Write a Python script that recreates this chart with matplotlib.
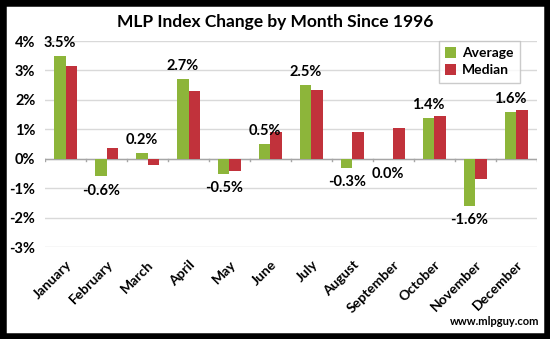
import matplotlib.pyplot as plt
import numpy as np
from matplotlib.patches import Rectangle

months = ['January', 'February', 'March', 'April', 'May', 'June', 'July',
          'August', 'September', 'October', 'November', 'December']
average = [3.5, -0.6, 0.2, 2.7, -0.5, 0.5, 2.5, -0.3, -0.02, 1.4, -1.6, 1.6]
median = [3.15, 0.35, -0.2, 2.3, -0.4, 0.9, 2.35, 0.9, 1.05, 1.45, -0.7, 1.65]
labels = ['3.5%', '-0.6%', '0.2%', '2.7%', '-0.5%', '0.5%', '2.5%',
          '-0.3%', '0.0%', '1.4%', '-1.6%', '1.6%']

plt.rcParams['font.family'] = ['Lato', 'DejaVu Sans']
plt.rcParams['font.weight'] = 'bold'

fig = plt.figure(figsize=(5.5, 3.39), dpi=100)
ax = fig.add_axes([0.082, 0.271, 0.894, 0.608])

x = np.arange(len(months))
w = 0.28
green = '#8db53a'
red = '#c1323b'
ax.bar(x - w / 2, average, w, color=green, label='Average', zorder=3)
ax.bar(x + w / 2, median, w, color=red, label='Median', zorder=3)

# value labels for the average bars
for i, v in enumerate(average):
    if v >= 0:
        ax.text(i - w / 2, v + 0.2, labels[i], ha='center', va='bottom',
                fontsize=10.5, fontweight='bold')
    else:
        ax.text(i - w / 2, v - 0.25, labels[i], ha='center', va='top',
                fontsize=10.5, fontweight='bold')

ax.set_xlim(-0.5, 11.5)
ax.set_ylim(-3, 4)
ax.set_yticks(range(-3, 5))
ax.set_yticklabels([f'{t}%' for t in range(-3, 5)], fontsize=10.5, fontweight='bold')
ax.yaxis.grid(True, color='#d9d9d9', linewidth=1, zorder=0)
ax.tick_params(axis='y', length=0, pad=7)
ax.axhline(0, color='#a6a6a6', linewidth=1, zorder=2)

# category labels, rotated
ax.set_xticks(x)
ax.set_xticklabels(months, rotation=45, ha='right', rotation_mode='anchor',
                   fontsize=10, fontweight='bold')
ax.tick_params(axis='x', length=0, pad=8)
for b in np.arange(-0.5, 12, 1):
    ax.plot([b, b], [0, -0.08], color='#a6a6a6', linewidth=1, zorder=2)
for s in ax.spines.values():
    s.set_visible(False)

ax.legend(loc='upper right', bbox_to_anchor=(0.965, 1.0),
          frameon=True, fancybox=False, edgecolor='#bfbfbf',
          handlelength=0.8, handleheight=0.8, handletextpad=0.4,
          borderpad=0.45, labelspacing=0.35, borderaxespad=0.0,
          prop={'weight': 'bold', 'size': 10})

fig.text(0.5, 0.935, 'MLP Index Change by Month Since 1996', ha='center',
         va='center', fontsize=12.5, fontweight='bold')
fig.text(0.98, 0.053, 'www.mlpguy.com', ha='right', va='center',
         fontsize=8, fontweight='bold')

fig.patches.append(Rectangle((0, 0), 1, 1, transform=fig.transFigure,
                             fill=False, edgecolor='black', linewidth=9))

fig.savefig('out.png', dpi=100)
